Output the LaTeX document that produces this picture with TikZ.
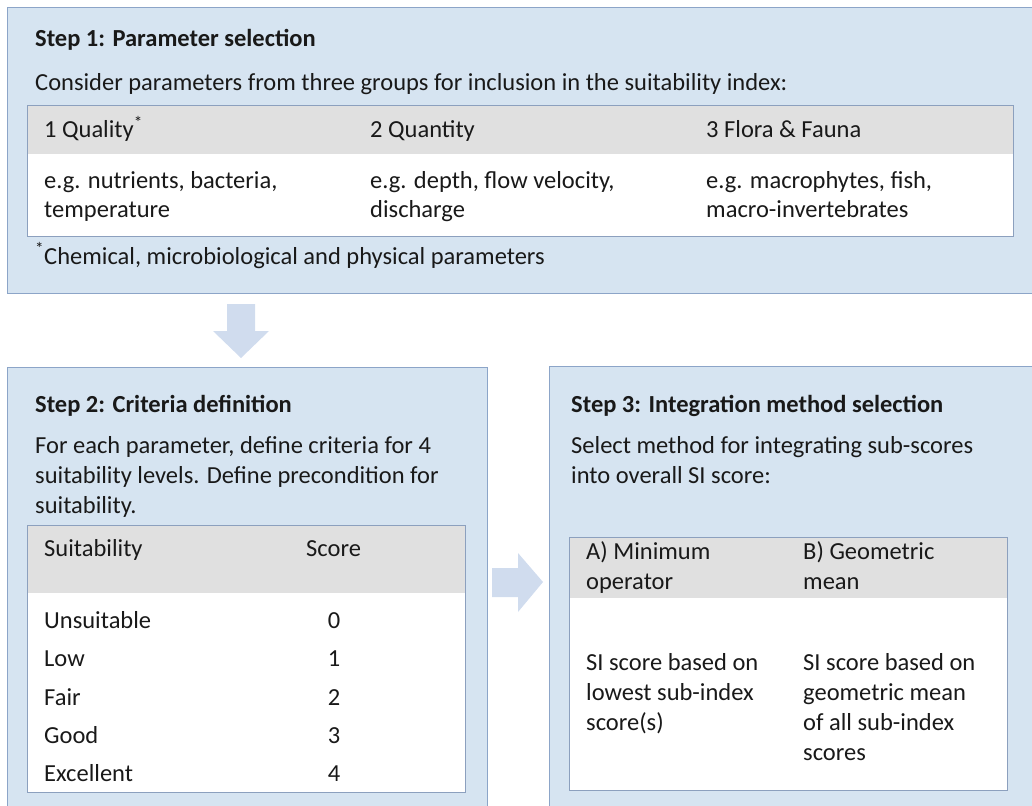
\documentclass[tikz,border=0pt]{standalone}
\usepackage{fontspec}
\setmainfont{Carlito}
\definecolor{boxfill}{RGB}{214,228,241}
\definecolor{boxline}{RGB}{140,165,200}
\definecolor{tblline}{RGB}{140,160,190}
\definecolor{hdrgrey}{RGB}{224,224,224}
\definecolor{arrowfill}{RGB}{208,220,238}
\newcommand{\fs}{\fontsize{24.5}{29}\selectfont}
\begin{document}
\begin{tikzpicture}[x=1pt,y=-1pt,
  stepbox/.style={draw=boxline, fill=boxfill, line width=1.2pt, anchor=north west, inner sep=0pt},
  tbl/.style={draw=tblline, fill=white, line width=1pt},
  hdr/.style={fill=hdrgrey},
  txt/.style={anchor=base west, inner sep=0pt, font=\fs, text=black!90},
  num/.style={anchor=base, inner sep=0pt, font=\fs, text=black!90},
  ttl/.style={txt, font=\fs\bfseries},
  blockarrow/.style={fill=arrowfill, draw=none}]
\useasboundingbox (0,0) rectangle (1032,805);
\begin{scope}
\clip (0,0) rectangle (1032,805);
% ---------- Step 1 ----------
\node[stepbox, minimum width=1040pt, minimum height=286pt] (s1) at (7,7) {};
\node[ttl] (s1t) at (35,47) {Step 1: Parameter selection};
\node[txt] (s1d) at (35,91) {Consider parameters from three groups for inclusion in the suitability index:};
\draw[tbl] (27,106) rectangle (1013,236);
\fill[hdr] (27.5,106.5) rectangle (1012.5,154);
\draw[tblline, line width=1pt] (27,106) rectangle (1013,236);
\node[txt] (q1) at (44,138) {1 Quality\textsuperscript{*}};
\node[txt] (q2) at (370,138) {2 Quantity};
\node[txt] (q3) at (706,138) {3 Flora \& Fauna};
\node[txt] (e1a) at (44,188) {e.g. nutrients, bacteria,};
\node[txt] (e1b) at (44,217) {temperature};
\node[txt] (e2a) at (370,188) {e.g. depth, flow velocity,};
\node[txt] (e2b) at (370,217) {discharge};
\node[txt] (e3a) at (706,188) {e.g. macrophytes, fish,};
\node[txt] (e3b) at (706,217) {macro-invertebrates};
\node[txt] (fn) at (35,264) {\textsuperscript{*}Chemical, microbiological and physical parameters};
% ---------- down arrow ----------
\fill[blockarrow] (227,304) -- (255,304) -- (255,331) -- (269,331) -- (241,358) -- (213,331) -- (227,331) -- cycle;
% ---------- Step 2 ----------
\node[stepbox, minimum width=480pt, minimum height=450pt] (s2) at (7,367) {};
\node[ttl] (s2t) at (35,412) {Step 2: Criteria definition};
\node[txt] (s2d1) at (35,453) {For each parameter, define criteria for 4};
\node[txt] (s2d2) at (35,483) {suitability levels. Define precondition for};
\node[txt] (s2d3) at (35,513) {suitability.};
\draw[tbl] (27,525) rectangle (465,792);
\fill[hdr] (27.5,525.5) rectangle (464.5,593);
\draw[tblline, line width=1pt] (27,525) rectangle (465,792);
\node[txt] (h1) at (44,556) {Suitability};
\node[txt] (h2) at (306,556) {Score};
\node[txt] (r0) at (44,628) {Unsuitable};
\node[num] (n0) at (334,628) {0};
\node[txt] (r1) at (44,666) {Low};
\node[num] (n1) at (334,666) {1};
\node[txt] (r2) at (44,705) {Fair};
\node[num] (n2) at (334,705) {2};
\node[txt] (r3) at (44,743) {Good};
\node[num] (n3) at (334,743) {3};
\node[txt] (r4) at (44,781) {Excellent};
\node[num] (n4) at (334,781) {4};
% ---------- right arrow ----------
\fill[blockarrow] (492,568) -- (518,568) -- (518,553) -- (543,582) -- (518,612) -- (518,597) -- (492,597) -- cycle;
% ---------- Step 3 ----------
\node[stepbox, minimum width=490pt, minimum height=450pt] (s3) at (549,366) {};
\node[ttl] (s3t) at (571,412) {Step 3: Integration method selection};
\node[txt] (s3d1) at (571,453) {Select method for integrating sub-scores};
\node[txt] (s3d2) at (571,483) {into overall SI score:};
\draw[tbl] (569,537) rectangle (1007,790);
\fill[hdr] (569.5,537.5) rectangle (1006.5,598);
\draw[tblline, line width=1pt] (569,537) rectangle (1007,790);
\node[txt] (a1) at (586,559) {A) Minimum};
\node[txt] (a2) at (586,589) {operator};
\node[txt] (b1) at (803,559) {B) Geometric};
\node[txt] (b2) at (803,589) {mean};
\node[txt] (a3) at (586,670) {SI score based on};
\node[txt] (a4) at (586,700) {lowest sub-index};
\node[txt] (a5) at (586,730) {score(s)};
\node[txt] (b3) at (803,670) {SI score based on};
\node[txt] (b4) at (803,700) {geometric mean};
\node[txt] (b5) at (803,730) {of all sub-index};
\node[txt] (b6) at (803,760) {scores};
\end{scope}
\end{tikzpicture}
\end{document}
